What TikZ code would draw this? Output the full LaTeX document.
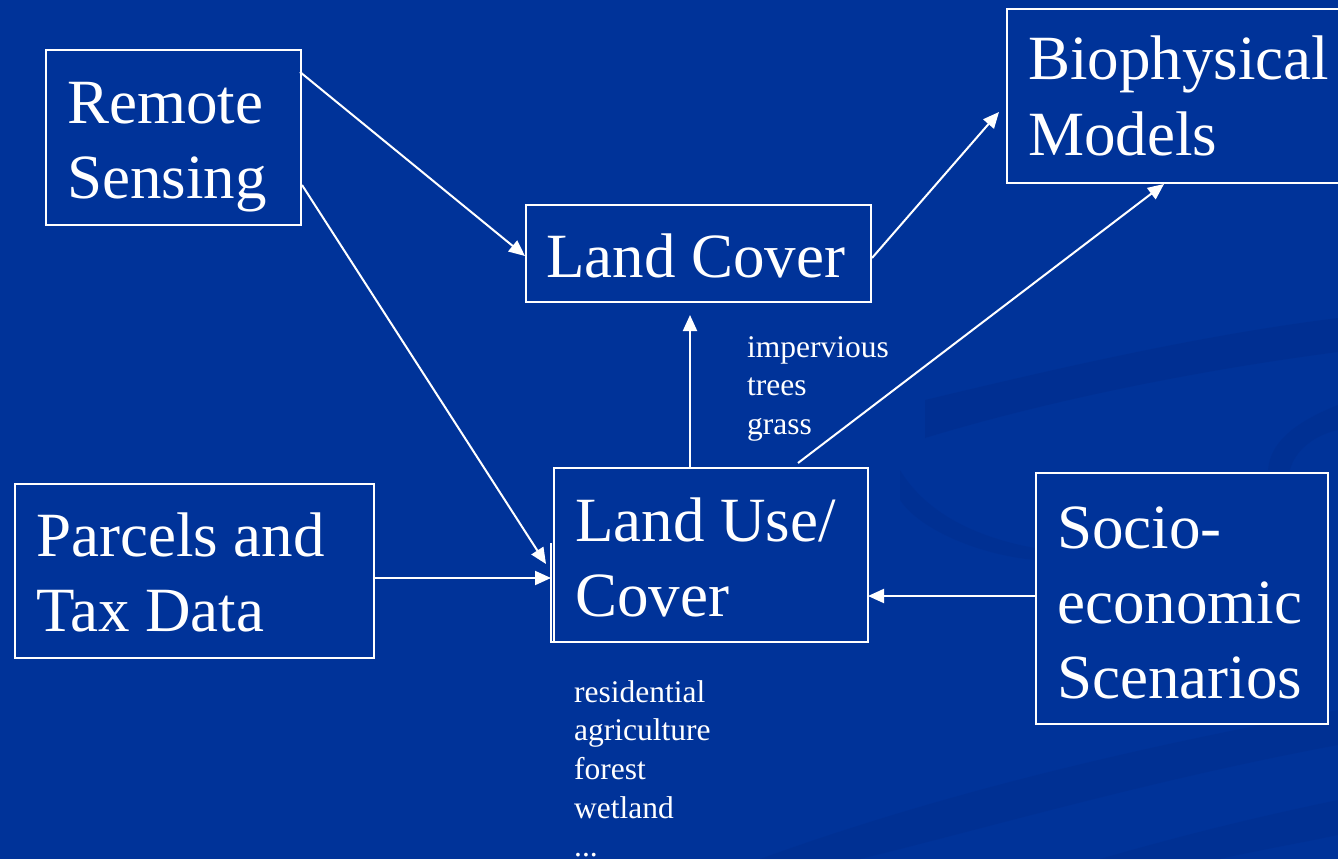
\documentclass[tikz,border=0pt]{standalone}
\usepackage{fontspec}
\setmainfont{Liberation Serif}
\usetikzlibrary{arrows.meta}
\definecolor{bgblue}{HTML}{003399}
\definecolor{swoosh}{HTML}{002D8C}
\tikzset{
  box/.style={draw=white, line width=2pt, fill=bgblue, rectangle, inner sep=0pt, anchor=north west},
  bigtext/.style={text=white, anchor=base west, inner sep=0pt, font=\fontsize{63}{75}\selectfont},
  smalltext/.style={text=white, anchor=base west, inner sep=0pt, font=\fontsize{31.5}{38.7}\selectfont},
  conn/.style={draw=white, line width=2pt, -{Triangle[length=16pt,width=14pt]}},
}
\newcommand{\lines}[2]{\parbox[t]{#1pt}{\raggedright #2}}
\begin{document}
\begin{tikzpicture}[x=1pt,y=-1pt]
\fill[bgblue] (0,0) rectangle (1338,859);
\useasboundingbox (0,0) rectangle (1338,859);
% faint background swooshes
\fill[swoosh, opacity=0.5] (925,400) .. controls (1050,370) and (1200,335) .. (1338,318) -- (1338,352) .. controls (1200,370) and (1050,400) .. (925,438) -- cycle;
\fill[swoosh, opacity=0.4] (900,470) .. controls (930,520) and (990,540) .. (1035,548) -- (1035,560) .. controls (980,555) and (920,530) .. (900,500) -- cycle;
\fill[swoosh, opacity=0.4] (1338,405) .. controls (1300,420) and (1270,440) .. (1268,470) -- (1290,470) .. controls (1295,450) and (1315,435) .. (1338,430) -- cycle;
\fill[swoosh, opacity=0.4] (760,859) .. controls (950,790) and (1150,745) .. (1338,710) -- (1338,745) .. controls (1150,780) and (980,830) .. (860,859) -- cycle;
\fill[swoosh, opacity=0.4] (1100,859) .. controls (1200,830) and (1280,812) .. (1338,800) -- (1338,835) .. controls (1290,845) and (1250,852) .. (1220,859) -- cycle;

% boxes
\node[box, minimum width=255, minimum height=175] (rs) at (45,49) {};
\node[box, minimum width=345, minimum height=97] (lc) at (525,204) {};
\node[box, minimum width=332, minimum height=174] (bm) at (1006,8) {};
\node[box, minimum width=359, minimum height=174] (pt) at (14,483) {};
\node[box, minimum width=314, minimum height=174] (lu) at (553,467) {};
\node[box, minimum width=292, minimum height=251] (se) at (1035,472) {};
\coordinate (dA) at (551,543);
\coordinate (dB) at (551,642);
\coordinate (dC) at (556,642);
\draw[white, line width=1.5pt] (dA) -- (dB) -- (dC);

% box texts
\node[bigtext] (rst) at (67,123) {\lines{300}{Remote\\Sensing}};
\node[bigtext] (lct) at (546,277) {Land Cover};
\node[bigtext] (bmt) at (1028,80) {\lines{330}{Biophysical\\Models}};
\node[bigtext] (ptt) at (36,556) {\lines{340}{Parcels and\\Tax Data}};
\node[bigtext] (lut) at (575,541) {\lines{300}{Land Use/\\Cover}};
\node[bigtext] (set) at (1057,548) {\lines{290}{Socio-\\economic\\Scenarios}};

% labels
\node[smalltext] (lab1) at (747,357) {\lines{200}{impervious\\trees\\grass}};
\node[smalltext] (lab2) at (574,702) {\lines{200}{residential\\agriculture\\forest\\wetland\\...}};

% connectors
\coordinate (rs1) at (300,72);
\coordinate (rs2) at (302,185);
\coordinate (lcin) at (525,256);
\coordinate (luin1) at (546,564);
\coordinate (ptout) at (373,578);
\coordinate (luin2) at (551,578);
\coordinate (seout) at (1035,596);
\coordinate (luin3) at (868,596);
\coordinate (luout1) at (690,467);
\coordinate (lcin2) at (690,315);
\coordinate (lcout) at (872,258);
\coordinate (bmin1) at (999,112);
\coordinate (luout2) at (798,463);
\coordinate (bmin2) at (1164,184);
\draw[conn] (rs1) -- (lcin);
\draw[conn] (rs2) -- (luin1);
\draw[conn] (ptout) -- (luin2);
\draw[conn] (seout) -- (luin3);
\draw[conn] (luout1) -- (lcin2);
\draw[conn] (lcout) -- (bmin1);
\draw[conn] (luout2) -- (bmin2);
\end{tikzpicture}
\end{document}
